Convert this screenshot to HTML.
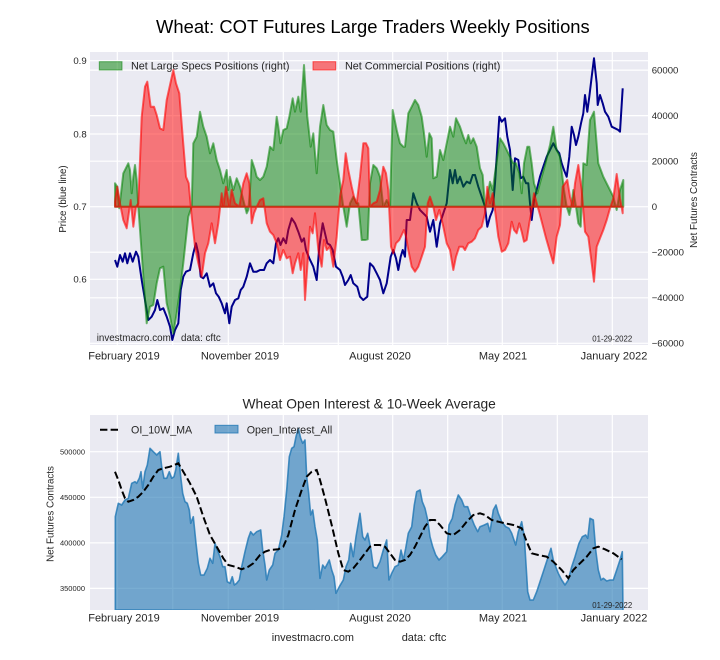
<!DOCTYPE html>
<html><head><meta charset="utf-8"><style>
html,body{margin:0;padding:0;background:#fff;}
svg{display:block;}
text{font-family:"Liberation Sans",Arial,sans-serif;fill:#262626;}
</style></head><body>
<svg width="720" height="660" viewBox="0 0 720 660" xmlns="http://www.w3.org/2000/svg">
<defs>
<clipPath id="c1"><rect x="90" y="52" width="558" height="293"/></clipPath>
<clipPath id="c2"><rect x="90" y="415" width="558" height="195"/></clipPath>
</defs>
<rect width="720" height="660" fill="#fff"/>
<text x="156" y="33" font-size="18.4" style="fill:#000">Wheat: COT Futures Large Traders Weekly Positions</text>

<!-- TOP AXES -->
<rect x="90" y="52" width="558" height="293" fill="#EAEAF2"/>
<g stroke="#fff" stroke-width="1.2">
<line x1="117.3" y1="52" x2="117.3" y2="345"/><line x1="172.7" y1="52" x2="172.7" y2="345"/>
<line x1="228.3" y1="52" x2="228.3" y2="345"/><line x1="283.3" y1="52" x2="283.3" y2="345"/>
<line x1="338.3" y1="52" x2="338.3" y2="345"/><line x1="392.7" y1="52" x2="392.7" y2="345"/>
<line x1="447.7" y1="52" x2="447.7" y2="345"/><line x1="502.3" y1="52" x2="502.3" y2="345"/>
<line x1="557.3" y1="52" x2="557.3" y2="345"/><line x1="612.3" y1="52" x2="612.3" y2="345"/>
<line x1="90" y1="60.7" x2="648" y2="60.7"/><line x1="90" y1="134" x2="648" y2="134"/>
<line x1="90" y1="206.7" x2="648" y2="206.7"/><line x1="90" y1="279.3" x2="648" y2="279.3"/>
<line x1="90" y1="70.1" x2="648" y2="70.1"/><line x1="90" y1="115.6" x2="648" y2="115.6"/>
<line x1="90" y1="161.2" x2="648" y2="161.2"/><line x1="90" y1="252.2" x2="648" y2="252.2"/>
<line x1="90" y1="297.8" x2="648" y2="297.8"/><line x1="90" y1="343.3" x2="648" y2="343.3"/>
</g>
<g clip-path="url(#c1)">
<polyline fill="none" stroke="#00008B" stroke-width="2" stroke-linejoin="round" points="115,260 117.3,266.7 120,255 122.7,261.7 125,253.3 127.3,263.3 130,253.3 132.7,261.7 136,251.7 138.3,256.7 141.7,280 145,300 148.3,320 151.7,316.7 155,310 157.3,300 160,310 163.3,308.3 166.7,316.7 170,326.7 172.3,340 175,330 178.3,323.3 180.7,290 183.3,276.7 186,271.7 190,270 193.3,253.3 196,243.3 198.3,253.3 200.7,276.7 203.3,278.3 206.7,273.3 210,286.7 213.3,283.3 216,293.3 218.7,296.7 221.7,303.3 225,313.3 226.7,303.3 229.3,323.3 231.7,306.7 235,300 238.3,298.3 240.7,290 243.3,286.7 246.7,276.7 250,263.3 253.3,271.7 256.7,271.7 260,270 264,270 266.7,263.3 270,260 273.3,263.3 276,243.3 278.3,238.3 280.5,245 283.3,238.3 286,243.3 288.3,230 291.7,218.3 295,223.3 298.3,231.7 301.7,241.7 304,238.3 306,250 309.3,258.3 313.3,266.7 316.7,280 319.3,246.7 322.7,223.3 325,233.3 327.3,243.3 330,245 332.7,250 336,266.7 340,270 342.7,276.7 345,285 348.3,280 350.7,275 353.3,283.3 357.3,286.7 360,296.7 363.3,300 367.3,296.7 370,263.3 373.3,266.7 376.7,273.3 380,280 383.3,293.3 386.7,283.3 390.7,256.7 393.3,250 396,258.3 398.3,270 400.7,256.7 402.7,250 405,256.7 406.7,220 410,220 413.3,193.3 416.7,203.3 420,210 423.3,213.3 426.7,216.7 430,231.7 433.3,220 436.7,246.7 440,223.3 443.3,213.3 446.7,203.3 450,170 452.7,183.3 455,170 457.3,183.3 460,176.7 463.3,186.7 466.7,181.7 470,183.3 472.7,175 475,175 478.3,186.7 481.7,196.7 485,206.7 487.3,226.7 490,216.7 492.7,210 495,183.3 499.3,116.7 501.7,121.7 505,118.3 507.3,136.7 510,150 512.7,190 515,158.3 518.3,160 520.7,178.3 523.3,176.7 526,183.3 528.3,183.3 530,203.3 531.7,220 534,200 536.7,190 540,176.7 543.3,166.7 546.7,156.7 550,150 553.3,143.3 556.7,150 559.3,153.3 561.7,163.3 564,170 566.7,176.7 569.3,156.7 571.7,126.7 574,135 576,145 578.3,136.7 581,123.3 583.3,113.3 585,95 587.3,111.7 589.3,96.7 591.7,76.7 594,58.3 596.7,83.3 597.7,105 600,95 602.7,103.3 605,111.7 608.3,116.7 611.7,126.7 615,128.3 618.3,130 620,131.7 622.7,88.3"/>
<polygon fill="#008000" fill-opacity="0.5" stroke="#008000" stroke-opacity="0.55" stroke-width="2" stroke-linejoin="round" points="115,183.3 117.3,186.7 119.3,208.3 123.3,173.3 128.3,163.3 130,170 131.7,193.3 133.3,176.7 135,165 136.7,180 138.3,206.7 140,230 146.7,323.3 150,306.7 153.3,305 156.7,283.3 160,268.3 163.3,266.7 166.7,303.3 170,316.7 173.3,333.3 176.7,313.3 180,290 183.3,263.3 188.3,216.7 191.7,206.7 193.3,143.3 196.7,136.7 200,111.7 203.3,126.7 206.7,136.7 210,153.3 213.3,143.3 216.7,160 220,170 223.3,183.3 226.7,170 228.3,190 230,176.7 233.3,190 236.7,178.3 240,186.7 243.3,200 246.7,213.3 248.3,210 250,190 251.7,160 255,170 256.7,176.7 260,180 263.3,176.7 266.7,166.7 270,146.7 273.3,150 276.7,116.7 278.3,126.7 280.5,143.3 283.3,130 286.7,128.3 289.3,116.7 292.7,98.3 295,111.7 298.3,96.7 300.7,111.7 304,65 307.3,116.7 310.7,146.7 313.3,133.3 316.7,173.3 320,126.7 323.3,105 326.7,125 330,130 333.3,131.7 336.7,160 340,183.3 343.3,206.7 346.7,226.7 350,203.3 353.3,196.7 356.7,203.3 358.3,203.3 361.7,240 365,240 367.7,239.3 370,183.3 373.3,165 376.7,168.3 380,176.7 383.3,206.7 386.7,200 390,206.7 392.7,110 396.7,130 400,143.3 403.3,146.7 405,146.7 408.3,113.3 411.7,106.7 415,100 418.3,105 421.7,116.7 424,133.3 426.7,156.7 429.3,133.3 431.7,138.3 433.3,178.3 436.7,176.7 440,150 443.3,160 446.7,143.3 450,126.7 453.3,136.7 456,118.3 460,126.7 463.3,136.7 466,143.3 468.3,135 470.7,143.3 473.3,138.3 476.7,146.7 480,168.3 482.7,175 485,206.7 487.3,196.7 490,181.7 492.7,190 495,173.3 498.3,150 500,138.3 503.3,143.3 506.7,150 510,156.7 513.3,163.3 516,163.3 519.3,173.3 521.7,193.3 524,163.3 527.3,146.7 529.3,146.7 531.7,163.3 534,183.3 537.3,193.3 540,183 545,165 550,145 553.3,126.7 556.7,150 560,156.7 564,190 566.7,206.7 569.3,215 571.7,203.3 573.3,190 576,206.7 578.3,223.3 580.7,226.7 583.3,163.3 586.7,165 590,120 594,111.7 598.3,163.3 603.3,176.7 608.3,186.7 613.3,196.7 616.7,210 620,190 623.3,180 623.3,206.7 115,206.7"/>
<polygon fill="#FF0000" fill-opacity="0.5" stroke="#FF0000" stroke-opacity="0.6" stroke-width="2" stroke-linejoin="round" points="115,201.7 117.3,186.7 120,203.3 123.3,220 126.7,228.3 128.3,216.7 130.7,200 133.3,226.7 136,206.7 138.3,203.3 141.7,116.7 145,86.7 147.3,81.7 150.7,106.7 154,106.7 156.7,115 160,128.3 163.3,130 166.7,100 170,85 173.3,70 176,83.3 179.3,93.3 182.7,136.7 186,176.7 188.7,183.3 191.7,216.7 195,246.7 198.3,263.3 201.7,276.7 205,253.3 208.3,243.3 211.7,223.3 215,243.3 218.3,223.3 221.7,193.3 223.3,206.7 226,186.7 229.3,206.7 231.7,190 235,203.3 239.3,206.7 243.3,183.3 246.7,173.3 249.3,183.3 251.7,223.3 254,213.3 256.7,206.7 260,200 263.3,198.3 266.7,223.3 270,231.7 273.3,235 276.7,243.3 280,260 283.3,250 286.7,258.3 290,256.7 292.7,273.3 295,263.3 298.3,253.3 300.7,270 303.3,253.3 305,300 307.3,266.7 310,226.7 312.7,233.3 315,213.3 318.3,250 321.7,266.7 324,240 326.7,250 330,246.7 333.3,266.7 336.7,236.7 340,196.7 343.3,180 345.7,153.3 348.3,170 351.7,186.7 354,196.7 356.7,203.3 360,176.7 363.3,143.3 366,143.3 368.3,148.3 370,206.7 373.3,203.3 376.7,201.7 380,190 383.3,166.7 386,173.3 388.3,190 391,246.7 393.3,253.3 396,243.3 399.3,240 404,230 406,236.7 408.3,250 411.7,266.7 415,271.7 418.3,266.7 421.7,256.7 425,246.7 427.7,203.3 430,196.7 433.3,206.7 436,220 439.3,210 443.3,226.7 446.7,243.3 450,250 453.3,270 456,256.7 459.3,246.7 462.7,246.7 465,250 468.3,243.3 471.7,241.7 475,238.3 478.3,230 481.7,226.7 485,213.3 487.3,186.7 490,203.3 492.7,193.3 495,210 498.3,236.7 501.7,251.7 505,250 508.3,243.3 511.7,221.7 514,230 516.7,233.3 519.3,223.3 521.7,231.7 524,241.7 526.7,240 529.3,223.3 531.7,210 534,193.3 540,215 546,238 553.3,263.3 556.7,236.7 560,225 562.7,186.7 567.3,180 570,196.7 572.7,206.7 575,183.3 578.3,165 581.7,190 585,231.7 588.3,236.7 591.7,263.3 594,281.7 596.7,246.7 600,238.3 603.3,230 606.7,220 610,208.3 613.3,198.3 616.7,174 620,198.3 622.7,213.3 622.7,206.7 115,206.7"/>
</g>
<!-- top legend -->
<rect x="99.3" y="61.7" width="22.7" height="8.3" fill="#008000" fill-opacity="0.5" stroke="#008000" stroke-opacity="0.55" stroke-width="1"/>
<text x="131" y="69.6" font-size="10.8">Net Large Specs Positions (right)</text>
<rect x="313" y="61.7" width="22.7" height="8.3" fill="#FF0000" fill-opacity="0.5" stroke="#FF0000" stroke-opacity="0.6" stroke-width="1"/>
<text x="345" y="69.6" font-size="10.8">Net Commercial Positions (right)</text>
<text x="96.7" y="341.2" font-size="9.8">investmacro.com</text>
<text x="181" y="341.2" font-size="9.8">data: cftc</text>
<text x="592.3" y="341.5" font-size="7.8">01-29-2022</text>
<!-- top ticks -->
<g font-size="9.6" text-anchor="end">
<text x="86.7" y="64.1">0.9</text><text x="86.7" y="137.4">0.8</text>
<text x="86.7" y="210.1">0.7</text><text x="86.7" y="282.7">0.6</text>
</g>
<g font-size="9.6">
<text x="651.7" y="73.5">60000</text><text x="651.7" y="119">40000</text>
<text x="651.7" y="164.6">20000</text><text x="651.7" y="210.1">0</text>
<text x="651.7" y="255.6">−20000</text><text x="651.7" y="301.2">−40000</text>
<text x="651.7" y="346.7">−60000</text>
</g>
<g font-size="11" text-anchor="middle">
<text x="124" y="359.5">February 2019</text><text x="240" y="359.5">November 2019</text>
<text x="380" y="359.5">August 2020</text><text x="503" y="359.5">May 2021</text>
<text x="614" y="359.5">January 2022</text>
</g>
<text transform="translate(66,199) rotate(-90)" font-size="9.7" text-anchor="middle">Price (blue line)</text>
<text transform="translate(697,200) rotate(-90)" font-size="9.8" text-anchor="middle">Net Futures Contracts</text>

<!-- BOTTOM AXES -->
<text x="369.2" y="408.5" font-size="13.8" text-anchor="middle">Wheat Open Interest &amp; 10-Week Average</text>
<rect x="90" y="415" width="558" height="195" fill="#EAEAF2"/>
<g stroke="#fff" stroke-width="1.2">
<line x1="117.3" y1="415" x2="117.3" y2="610"/><line x1="172.7" y1="415" x2="172.7" y2="610"/>
<line x1="228.3" y1="415" x2="228.3" y2="610"/><line x1="283.3" y1="415" x2="283.3" y2="610"/>
<line x1="338.3" y1="415" x2="338.3" y2="610"/><line x1="392.7" y1="415" x2="392.7" y2="610"/>
<line x1="447.7" y1="415" x2="447.7" y2="610"/><line x1="502.3" y1="415" x2="502.3" y2="610"/>
<line x1="557.3" y1="415" x2="557.3" y2="610"/><line x1="612.3" y1="415" x2="612.3" y2="610"/>
<line x1="90" y1="451.7" x2="648" y2="451.7"/><line x1="90" y1="497.3" x2="648" y2="497.3"/>
<line x1="90" y1="542.9" x2="648" y2="542.9"/><line x1="90" y1="588.4" x2="648" y2="588.4"/>
</g>
<g clip-path="url(#c2)">
<polygon fill="#1f77b4" fill-opacity="0.6" stroke="#1f77b4" stroke-opacity="0.8" stroke-width="1.6" stroke-linejoin="round" points="115.3,610 115.3,516.7 118.3,503.3 121.7,505 125,500 128.3,498.3 131.7,483.3 135,481.7 136.7,483.3 139.3,478.3 141,471.7 142.7,488.3 145,471.7 147.3,465 150,448.3 153.3,451.7 156.7,455 160,451.7 161.7,466.7 164,478.3 166.7,478.3 169.3,471.7 171.7,478.3 174,476.7 175.7,470 178.3,453.3 180.7,476.7 182.7,493.3 185,501.7 187.3,503.3 189.3,510 190.7,523.3 193.3,516.7 196,543.3 198.3,563.3 200.7,575 204,575 207.3,568.3 210,558.3 212.7,563.3 215,543.3 217.3,550 220,556.7 222.7,566.7 225,566.7 227.3,581.7 230,583.3 232.3,576.7 234.3,585 236.7,583.3 239.3,580 241.7,566.7 245,551.7 248.3,538.3 250.7,531.7 253.3,535 256.7,531.7 260.7,530 262.7,550 265,565 266.7,580 269.3,570 272.7,565 275,553.3 278.3,550 281.7,535 284,516.7 286.7,490 289.3,456.7 291.7,448.3 294,446.7 296,436.7 298.3,428.3 300.7,438.3 302.7,443.3 305,440 306.7,476.7 308.7,493.3 310.7,515 312.7,510 315,526.7 317.3,540 320,578.3 322.7,565 325,568.3 326.7,565 329.3,560 331.7,570 334,576.7 336,593.3 339.3,586.7 343.3,580 346,566.7 348.7,560 350.7,543.3 353.3,556.7 356,536.7 358.3,523.3 360,513.3 362.7,536.7 365,540 367.7,533.3 371,550 373.3,566.7 376.7,568.3 380,561.7 383.3,550 386.7,540 389,580 391.7,573.3 395,566.7 398.3,565 401,550 403.3,560 405.7,548.3 408.3,533.3 411.7,526.7 414.3,505 416.7,491.7 420,490 422.3,501.7 425,508.3 427.7,520 430,536.7 432.7,546.7 435.7,555 439,560 442.3,556.7 446.7,551.7 449,525 452.3,518.3 455,505 458.3,495 461.7,500 464.3,506.7 467.7,506.7 471,516.7 474.3,525 477.7,531.7 480,526.7 484.3,525 487.7,523.3 490,531.7 493.3,510 496,505 498.3,513.3 501.7,521.7 505.7,526.7 509,528.3 511.7,533.3 515.7,545 518.3,531.7 521.7,521.7 524.3,536.7 527.7,591.7 530,600 533.3,600 536.7,591.7 540,581.7 543.3,571.7 547.7,558.3 551,548.3 553.3,560 555.7,566.7 558.3,573.3 561.7,580 565,585 568.3,580 571.7,566.7 575,556.7 579,543.3 582.3,536.7 585.7,535 587.7,538.3 590,518.3 593.3,520 595.7,550 598.3,570 601,580 603.3,578.3 606.7,581 610,580 613.3,580 616.7,570 620,560 622.3,551.7 623,612"/>
<polyline fill="none" stroke="#000" stroke-width="2" stroke-dasharray="7.4 3.2" points="115,471.7 118.3,480 121.7,490 125,498.3 128.3,501.7 133.3,500 138.3,496.7 143.3,491.7 148.3,485 153.3,476.7 158.3,470 163.3,468.3 170,466.7 178.3,463.3 183.3,471.7 190,483.3 196.7,496.7 203.3,516.7 210,535 216.7,546.7 223.3,558.3 228.3,565 235,566.7 241.7,569.3 248.3,566.7 253.3,563.3 260,555 265,551.7 270,550 278.3,549.3 283.3,546.7 288.3,535 295,510 301.7,490 306.7,476.7 311.7,471.7 316.7,470 320,480 325,498.3 331.7,525 338.3,553.3 343.3,570 348.3,571.7 353.3,568.3 360,560 365,553.3 370,546.7 373.3,545 380,545 385,546.7 390,553.3 395,560 400,561.7 405,560 410,555 415,546.7 420,536.7 425,526.7 430,520 435,520 440,525 446.7,533.3 453.3,535 460,530 466.7,521.7 473.3,515 480,513.3 485,515 491.7,520 498.3,521.7 505,523.3 513.3,525 521.7,528.3 526.7,541.7 531.7,553.3 538.3,555 546.7,556.7 553.3,561.7 561.7,570 568.3,578.3 573.3,570 580,563.3 586.7,556.7 593.3,548.3 598.3,546.7 605,549.3 613.3,553.3 621.7,559.3"/>
</g>
<!-- bottom legend -->
<line x1="100" y1="429.7" x2="120" y2="429.7" stroke="#000" stroke-width="2" stroke-dasharray="7.4 3.2"/>
<text x="131" y="433.5" font-size="10.7">OI_10W_MA</text>
<rect x="215" y="425.3" width="23" height="7.7" fill="#1f77b4" fill-opacity="0.6" stroke="#1f77b4" stroke-opacity="0.8" stroke-width="1"/>
<text x="246.7" y="433.5" font-size="10.7">Open_Interest_All</text>
<text x="592.3" y="608" font-size="7.8">01-29-2022</text>
<g font-size="7.5" text-anchor="end">
<text x="85" y="454.4">500000</text><text x="85" y="500">450000</text>
<text x="85" y="545.6">400000</text><text x="85" y="591.1">350000</text>
</g>
<text transform="translate(53.5,514) rotate(-90)" font-size="9.8" text-anchor="middle">Net Futures Contracts</text>
<g font-size="11" text-anchor="middle">
<text x="124" y="621.5">February 2019</text><text x="240" y="621.5">November 2019</text>
<text x="380" y="621.5">August 2020</text><text x="503" y="621.5">May 2021</text>
<text x="614" y="621.5">January 2022</text>
</g>
<text x="271.7" y="641" font-size="10.9">investmacro.com</text>
<text x="401.7" y="641" font-size="11">data: cftc</text>
</svg>
</body></html>
